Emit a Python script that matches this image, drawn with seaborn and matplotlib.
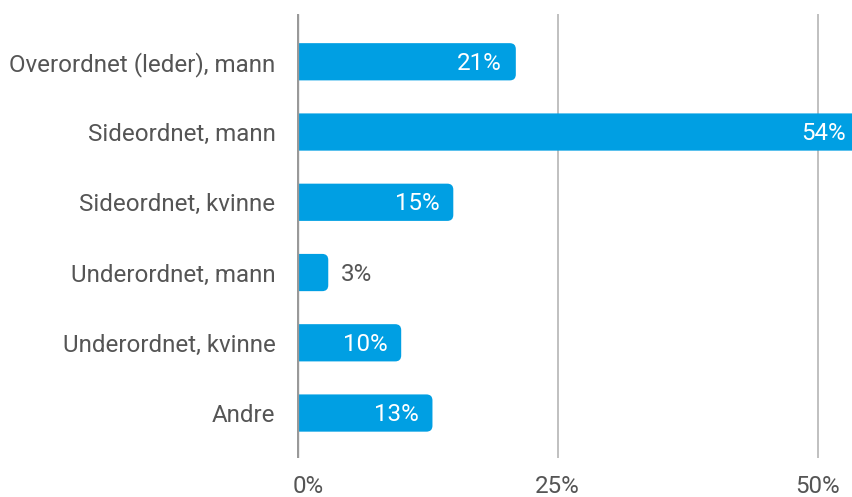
import numpy as np
import pandas as pd
import seaborn as sns
import matplotlib.pyplot as plt
from matplotlib.patches import FancyBboxPatch
import matplotlib.transforms as mtransforms

# data
categories = ["Overordnet (leder), mann", "Sideordnet, mann", "Sideordnet, kvinne",
              "Underordnet, mann", "Underordnet, kvinne", "Andre"]
values = [21, 54, 15, 3, 10, 13]
xticks = [0, 25, 50]
xtick_labels = ["0%", "25%", "50%"]

df = pd.DataFrame({"kategori": categories, "andel": values})

bar_color = "#009FE3"
text_color = "#555555"

sns.set_style("white")
plt.rcParams["font.family"] = ["Roboto", "DejaVu Sans"]

fig = plt.figure(figsize=(8.52, 4.97), dpi=100)
ax = fig.add_axes([297 / 852, 1 - 458 / 497, 1 - 297 / 852, (458 - 14) / 497])

sns.barplot(data=df, x="andel", y="kategori", orient="h", color=bar_color,
            width=0.53, ax=ax, saturation=1)

ax.set_xlim(0, (852 - 297) / 10.42)
ax.set_ylim(5.64, -0.68)

# replace the plain bars with ones that are rounded at the right end
# (the left end starts before 0 and is clipped by the axes, so it stays square)
px_x = (852 - 297) / ax.get_xlim()[1]
px_y = (458 - 14) / (5.64 + 0.68)
r = 6 / px_x
for p in list(ax.patches):
    x0, y0, w, h = p.get_x(), p.get_y(), p.get_width(), p.get_height()
    p.remove()
    ax.add_patch(FancyBboxPatch((x0 - 3 * r, y0), w + 3 * r, h,
                                boxstyle=f"round,pad=0,rounding_size={r}",
                                mutation_aspect=px_x / px_y,
                                fc=bar_color, ec="none", zorder=2))

# value labels
off = mtransforms.offset_copy
for i, v in enumerate(values):
    if v >= 5:
        ax.text(v, i, f"{v}%", ha="right", va="center", color="white", fontsize=17.4,
                transform=off(ax.transData, fig=fig, x=-14, y=-1.5, units="dots"), zorder=3)
    else:
        ax.text(v, i, f"{v}%", ha="left", va="center", color=text_color, fontsize=17.4,
                transform=off(ax.transData, fig=fig, x=13, y=-1.5, units="dots"), zorder=3)

ax.set_xticks(xticks)
ax.set_xticklabels(xtick_labels)
ax.xaxis.grid(True, color="#b5b5b5", lw=1.2, zorder=0)
ax.set_axisbelow(True)
ax.axvline(0, color="#999999", lw=2.4, zorder=4)

ax.tick_params(axis="y", length=0, pad=15.5, labelsize=17.4, labelcolor=text_color)
ax.tick_params(axis="x", length=0, pad=12.5, labelsize=17.4, labelcolor=text_color)
ax.get_xticklabels()[0].set_horizontalalignment("left")
ax.get_xticklabels()[0].set_transform(ax.get_xticklabels()[0].get_transform()
                                      + mtransforms.ScaledTranslation(-4 / 100, 0, fig.dpi_scale_trans))
ax.set_xlabel("")
ax.set_ylabel("")
sns.despine(ax=ax, left=True, bottom=True)

fig.savefig("out.png", dpi=100)
